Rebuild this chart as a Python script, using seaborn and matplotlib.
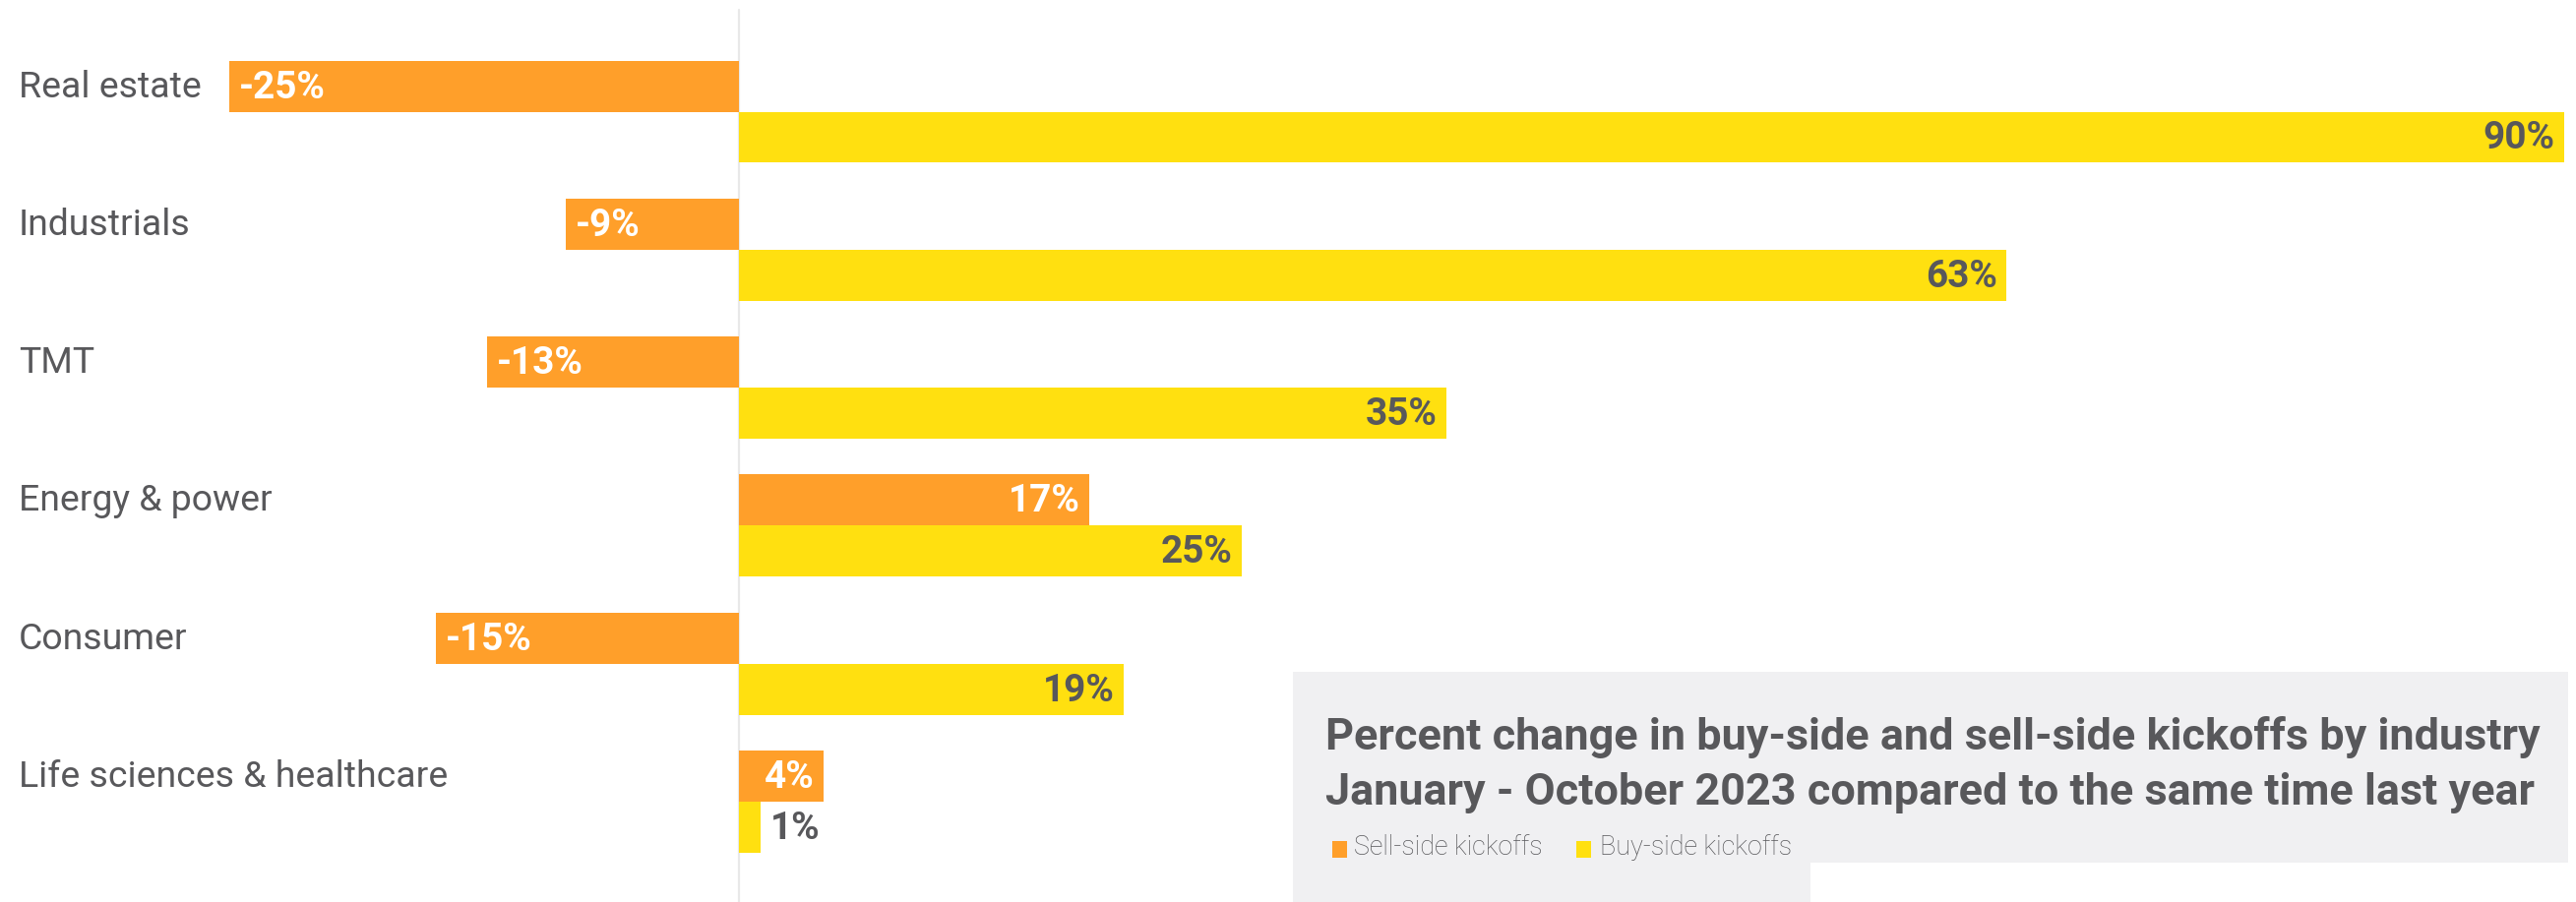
import matplotlib
matplotlib.use("Agg")
import matplotlib.pyplot as plt
import matplotlib.transforms as mtransforms
from matplotlib.patches import Polygon, Rectangle
import seaborn as sns
import pandas as pd

# ---------------- data ----------------
industries = ["Real estate", "Industrials", "TMT", "Energy & power",
              "Consumer", "Life sciences & healthcare"]
# bar lengths (bars are drawn at unrounded values)
sell_side = [-25.1, -8.5, -12.4, 17.3, -14.9, 4.2]
buy_side = [90.0, 62.5, 34.9, 24.8, 19.0, 1.1]
# value labels printed on the chart
sell_labels = ["-25%", "-9%", "-13%", "17%", "-15%", "4%"]
buy_labels = ["90%", "63%", "35%", "25%", "19%", "1%"]
series_names = ["Sell-side kickoffs", "Buy-side kickoffs"]
title_lines = ["Percent change in buy-side and sell-side kickoffs by industry",
               "January - October 2023 compared to the same time last year"]

ORANGE = "#FF9F2A"
YELLOW = "#FFE010"
TEXT = "#58585B"
BOX = "#F0F0F2"

sns.set_theme(style="white")
plt.rcParams["font.family"] = ["Roboto", "DejaVu Sans"]

W, H = 2618, 917
fig = plt.figure(figsize=(W / 100, H / 100), dpi=100)
fig.patch.set_facecolor("white")
ax = fig.add_axes([0, 0, 1, 1])
renderer = fig.canvas.get_renderer()


def fit_size(text, target_px, weight, family=None, base=20.0):
    t = fig.text(0, 0, text, fontsize=base, fontweight=weight,
                 family=family if family else plt.rcParams["font.family"])
    w = t.get_window_extent(renderer).width
    t.remove()
    return base * target_px / w


df = pd.DataFrame({
    "industry": industries * 2,
    "value": sell_side + buy_side,
    "series": [series_names[0]] * len(industries) + [series_names[1]] * len(industries),
})

sns.barplot(data=df, x="value", y="industry", hue="series", order=industries,
            hue_order=series_names, palette=[ORANGE, YELLOW], orient="h",
            width=0.74, dodge=True, saturation=1, legend=False, errorbar=None,
            linewidth=0, ax=ax)

# scale layout
px_per_unit = 20.62
zero_px = 750.5
ax.set_xlim(-zero_px / px_per_unit, (W - zero_px) / px_per_unit)
y0, dy = 113.5, 140.3
ax.set_ylim((H - y0) / dy, -y0 / dy)
ax.set_axis_off()

ax.axvline(0, ymin=0, ymax=1 - 10 / H, color="#E8E8E8", lw=1.6, zorder=0)

# category labels
cat_size = fit_size("Energy & power", 257, "normal")
trans = mtransforms.blended_transform_factory(ax.transAxes, ax.transData)
for i, name in enumerate(industries):
    ax.text(19 / W, i - 0.185 + 11 / dy, name, transform=trans, fontsize=cat_size,
            fontweight="normal", color=TEXT, va="baseline", ha="left")

# value labels
val_size = fit_size("-25%", 88, "bold")
off = 7.0  # points (~10 px)
base_off = 12 / dy
for ci, (cont, vals, labs) in enumerate(zip(ax.containers, [sell_side, buy_side],
                                              [sell_labels, buy_labels])):
    inside_color = "white" if ci == 0 else TEXT
    for bar, v, lab in zip(cont, vals, labs):
        yc = bar.get_y() + bar.get_height() / 2 + base_off
        if abs(v) >= 3:
            if v < 0:
                ax.annotate(lab, (v, yc), xytext=(off, 0), textcoords="offset points",
                            ha="left", va="baseline", fontsize=val_size,
                            fontweight="bold", color=inside_color)
            else:
                ax.annotate(lab, (v, yc), xytext=(-off, 0), textcoords="offset points",
                            ha="right", va="baseline", fontsize=val_size,
                            fontweight="bold", color=inside_color)
        else:
            ax.annotate(lab, (v, yc), xytext=(off, 0), textcoords="offset points",
                        ha="left", va="baseline", fontsize=val_size,
                        fontweight="bold", color=TEXT)


# grey title/legend box
def fp(x, y):
    return (x / W, 1 - y / H)


pts = [fp(1314, 683), fp(2610, 683), fp(2610, 877), fp(1840, 877),
       fp(1840, 917), fp(1314, 917)]
fig.patches.append(Polygon(pts, closed=True, transform=fig.transFigure,
                           facecolor=BOX, edgecolor="none", zorder=0))

title_size = fit_size(title_lines[0], 1230, "bold")
for line, base in zip(title_lines, [762, 818]):
    fig.text(1347 / W, 1 - base / H, line, fontsize=title_size, fontweight="bold",
             color=TEXT, va="baseline", ha="left")

# legend
leg_size = fit_size(series_names[0], 192, "light")
for (sx, tx), col, name in zip([(1354, 1376), (1602, 1626)], [ORANGE, YELLOW], series_names):
    fig.patches.append(Rectangle(fp(sx, 872), 15 / W, 17 / H, transform=fig.transFigure,
                                 facecolor=col, edgecolor="none", zorder=2))
    fig.text(tx / W, 1 - 869 / H, name, fontsize=leg_size, fontweight="light",
             color=TEXT, va="baseline", ha="left")

fig.savefig("out.png", dpi=100)
